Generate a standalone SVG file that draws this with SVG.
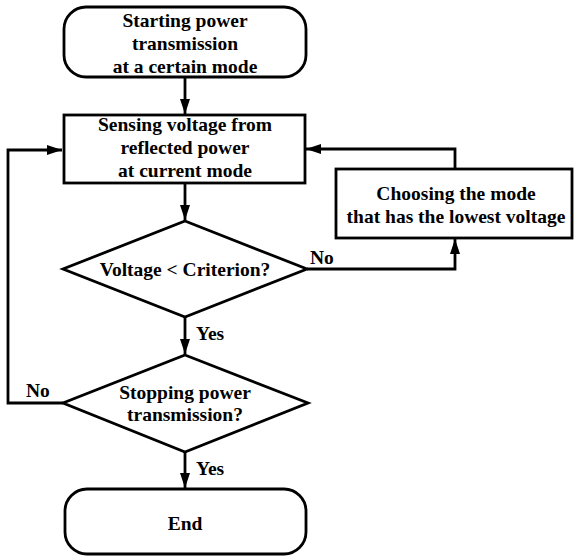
<svg xmlns="http://www.w3.org/2000/svg" width="574" height="557" viewBox="0 0 574 557">
<defs>
<marker id="ah" viewBox="0 0 15 10" refX="15" refY="5" markerWidth="15" markerHeight="10" markerUnits="userSpaceOnUse" orient="auto">
<path d="M0,0 L15,5 L0,10 Z" fill="#000"/>
</marker>
</defs>
<style>
.shape{fill:#fff;stroke:#000;stroke-width:2.8}
.conn{fill:none;stroke:#000;stroke-width:2.8}
text{font-family:"Liberation Serif","Times New Roman",serif;font-weight:bold;font-size:19.5px;fill:#000}
.c{text-anchor:middle}
</style>
<rect width="574" height="557" fill="#fff"/>
<g id="connectors">
<path class="conn" d="M185,78 L185,114" marker-end="url(#ah)"/>
<path class="conn" d="M185,183 L185,220" marker-end="url(#ah)"/>
<path class="conn" d="M307,269 L455,269 L455,239" marker-end="url(#ah)"/>
<path class="conn" d="M455,169 L455,149 L306,149" marker-end="url(#ah)"/>
<path class="conn" d="M185,317 L185,354" marker-end="url(#ah)"/>
<path class="conn" d="M63,403 L8,403 L8,150 L62,150" marker-end="url(#ah)"/>
<path class="conn" d="M185,452 L185,488" marker-end="url(#ah)"/>
<text x="310" y="264">No</text>
<text x="196" y="340">Yes</text>
<text x="26" y="397">No</text>
<text x="196" y="475">Yes</text>
</g>
<g id="start">
<rect class="shape" x="64" y="7" width="242" height="70" rx="22" ry="22"/>
<text class="c" x="185" y="27">Starting power</text>
<text class="c" x="185" y="50">transmission</text>
<text class="c" x="185" y="73">at a certain mode</text>
</g>
<g id="sensing">
<rect class="shape" x="64" y="115" width="241" height="68"/>
<text class="c" x="185" y="131">Sensing voltage from</text>
<text class="c" x="185" y="154">reflected power</text>
<text class="c" x="185" y="177">at current mode</text>
</g>
<g id="choosing">
<rect class="shape" x="336" y="169" width="236" height="69"/>
<text class="c" x="456" y="200">Choosing the mode</text>
<text class="c" x="456" y="223">that has the lowest voltage</text>
</g>
<g id="decision1">
<polygon class="shape" points="185,221 307,269 185,317 63,269"/>
<text class="c" x="185" y="276">Voltage &lt; Criterion?</text>
</g>
<g id="decision2">
<polygon class="shape" points="185,355 308,403 185,452 63,403"/>
<text class="c" x="185" y="399">Stopping power</text>
<text class="c" x="185" y="421">transmission?</text>
</g>
<g id="end">
<rect class="shape" x="65" y="489" width="241" height="65" rx="22" ry="22"/>
<text class="c" x="185" y="530">End</text>
</g>
</svg>
